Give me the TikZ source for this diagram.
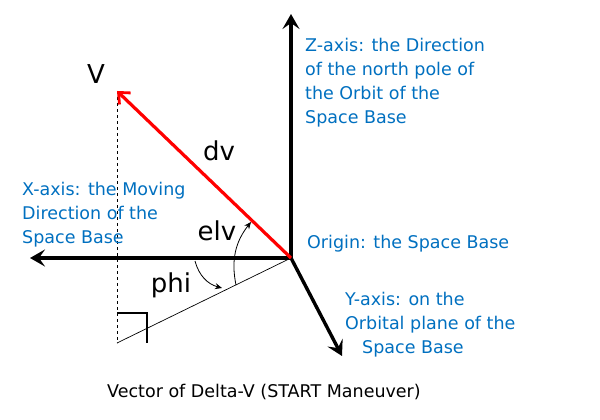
\documentclass[tikz,border=0pt]{standalone}
\usepackage{fontspec}
\setmainfont{DejaVu Sans}
\usetikzlibrary{arrows.meta}
\definecolor{lblue}{RGB}{0,112,192}
\begin{document}
\begin{tikzpicture}[x=1pt,y=-1pt,
  axis/.style={line width=3.4pt,-{Stealth[length=15pt,width=17pt,inset=6pt]}},
  bluetext/.style={text=lblue,font=\fontsize{17.5}{24}\selectfont,align=left,inner sep=0pt,anchor=base west},
  biglabel/.style={font=\fontsize{26}{28}\selectfont,inner sep=0pt,anchor=base},
  thinarc/.style={line width=0.8pt,-{Stealth[length=7pt,width=6pt]}}]
\useasboundingbox (0,0) rectangle (600,420);
\fill[white] (0,0) rectangle (600,420);
\coordinate (O) at (291,258);
\coordinate (Z) at (291,14);
\coordinate (X) at (30,258);
\coordinate (Y) at (342,356);
\coordinate (V) at (117,91);
\coordinate (P) at (117,343);
% dashed projection
\draw[dashed,line width=0.7pt] (V) -- (P);
% thin line
\draw[line width=0.7pt] (O) -- (P);
% right angle marker
\coordinate (ra1) at (117,313);
\coordinate (ra2) at (147,313);
\coordinate (ra3) at (147,343);
\draw[line width=1.6pt] (ra1) -- (ra2) -- (ra3);
% axes
\draw[axis] (O) -- (Z);
\draw[axis] (O) -- (X);
\draw[axis] (O) -- (Y);
% red vector
\draw[red,line width=3.2pt,-{Straight Barb[length=9pt,width=16pt,line width=2.8pt]}] (O) -- (V);
% arcs
\coordinate (e1) at (236,285);
\coordinate (e2) at (251,222);
\draw[thinarc] (e1) to[bend left=25] (e2);
\coordinate (p1) at (195,261);
\coordinate (p2) at (222,288);
\draw[thinarc] (p1) to[bend right=30] (p2);
% labels
\node[biglabel] (lV) at (96,84) {V};
\node[biglabel] (ldv) at (219,160) {dv};
\node[biglabel] (lelv) at (217,240) {elv};
\node[biglabel] (lphi) at (171,292) {phi};
\node[bluetext] (tz) at (305,123) {Z-axis: the Direction\\of the north pole of\\the Orbit of the\\Space Base};
\node[bluetext] (tx) at (22,243) {X-axis: the Moving\\Direction of the\\Space Base};
\node[bluetext] (to) at (307,248) {Origin: the Space Base};
\node[bluetext] (ty) at (345,353) {Y-axis: on the\\Orbital plane of the\\\hspace*{17pt}Space Base};
\node[font=\fontsize{17.5}{20}\selectfont,inner sep=0pt,anchor=base west] (cap) at (107,397) {Vector of Delta-V (START Maneuver)};
\end{tikzpicture}
\end{document}
